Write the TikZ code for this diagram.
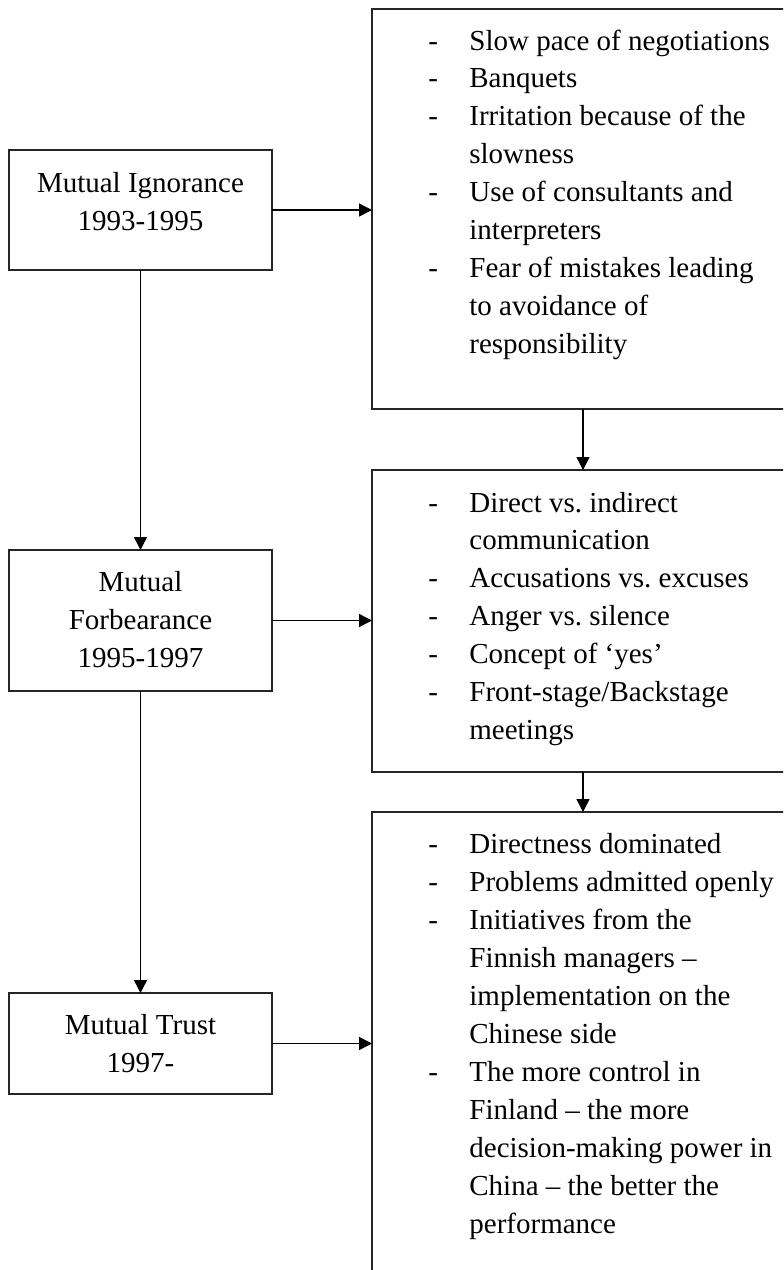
\documentclass[tikz,border=0pt]{standalone}
\usepackage{fontspec}
\setmainfont{Liberation Serif}
\usetikzlibrary{arrows.meta}
\frenchspacing
\begin{document}
\begin{tikzpicture}[x=0.5pt,y=-0.5pt,
  box/.style={draw=black!85, line width=1pt, inner sep=0pt, outer sep=0pt, anchor=north west},
  conn/.style={draw=black, line width=0.7pt, -{Triangle[length=6.5pt,width=6.5pt]}},
  ctxt/.style={inner sep=0pt, anchor=base, font=\fontsize{14.5pt}{19pt}\selectfont\frenchspacing},
  ltxt/.style={inner sep=0pt, anchor=base west, font=\fontsize{14.5pt}{19pt}\selectfont\frenchspacing},
]
\clip (0,0) rectangle (783,1270);
\fill[white] (0,0) rectangle (783,1270);

% left boxes
\node[box, minimum width=131.5pt, minimum height=60pt] (L1) at (9,150) {};
\node[box, minimum width=131.5pt, minimum height=70.5pt] (L2) at (9,550) {};
\node[box, minimum width=131.5pt, minimum height=50.5pt] (L3) at (9,993) {};

% right boxes (open beyond the picture edges)
\node[box, minimum width=211pt, minimum height=200pt] (R1) at (372,9) {};
\node[box, minimum width=211pt, minimum height=151pt] (R2) at (372,470) {};
\node[box, minimum width=211pt, minimum height=250pt] (R3) at (372,812) {};

% left texts
\node[ctxt] (l1a) at (140.5,192) {Mutual Ignorance};
\node[ctxt] (l1b) at (140.5,230) {1993-1995};
\node[ctxt] (l2a) at (140.5,591) {Mutual};
\node[ctxt] (l2b) at (140.5,629) {Forbearance};
\node[ctxt] (l2c) at (140.5,667) {1995-1997};
\node[ctxt] (l3a) at (140.5,1034) {Mutual Trust};
\node[ctxt] (l3b) at (140.5,1072) {1997-};

% right box 1
\foreach \t [count=\i from 0] in {Slow pace of negotiations, Banquets, Irritation because of the, slowness, Use of consultants and, interpreters, Fear of mistakes leading, to avoidance of, responsibility}
  \node[ltxt] (r1t\i) at (469,{50+37.9*\i}) {\t};
\foreach \i in {0,1,2,4,6}
  \node[ltxt] (r1d\i) at (428,{50+37.9*\i}) {-};

% right box 2
\foreach \t [count=\i from 0] in {Direct vs. indirect, communication, Accusations vs. excuses, Anger vs. silence, Concept of ‘yes’, Front-stage/Backstage, meetings}
  \node[ltxt] (r2t\i) at (469,{512+37.9*\i}) {\t};
\foreach \i in {0,2,3,4,5}
  \node[ltxt] (r2d\i) at (428,{512+37.9*\i}) {-};

% right box 3
\foreach \t [count=\i from 0] in {Directness dominated, Problems admitted openly, Initiatives from the, Finnish managers --, implementation on the, Chinese side, The more control in, Finland -- the more, decision-making power in, China -- the better the, performance}
  \node[ltxt] (r3t\i) at (469,{853+38*\i}) {\t};
\foreach \i in {0,1,2,6}
  \node[ltxt] (r3d\i) at (428,{853+38*\i}) {-};

% connectors
\draw[conn] (L1.east) -- (L1.east -| R1.west);
\draw[conn] (L2.east) -- (L2.east -| R2.west);
\draw[conn] (L3.east) -- (L3.east -| R3.west);
\draw[conn] (L1.south) -- (L2.north);
\draw[conn] (L2.south) -- (L3.north);
\draw[conn] (R1.south) -- (R2.north);
\draw[conn] (R2.south) -- (R3.north);
\end{tikzpicture}
\end{document}
